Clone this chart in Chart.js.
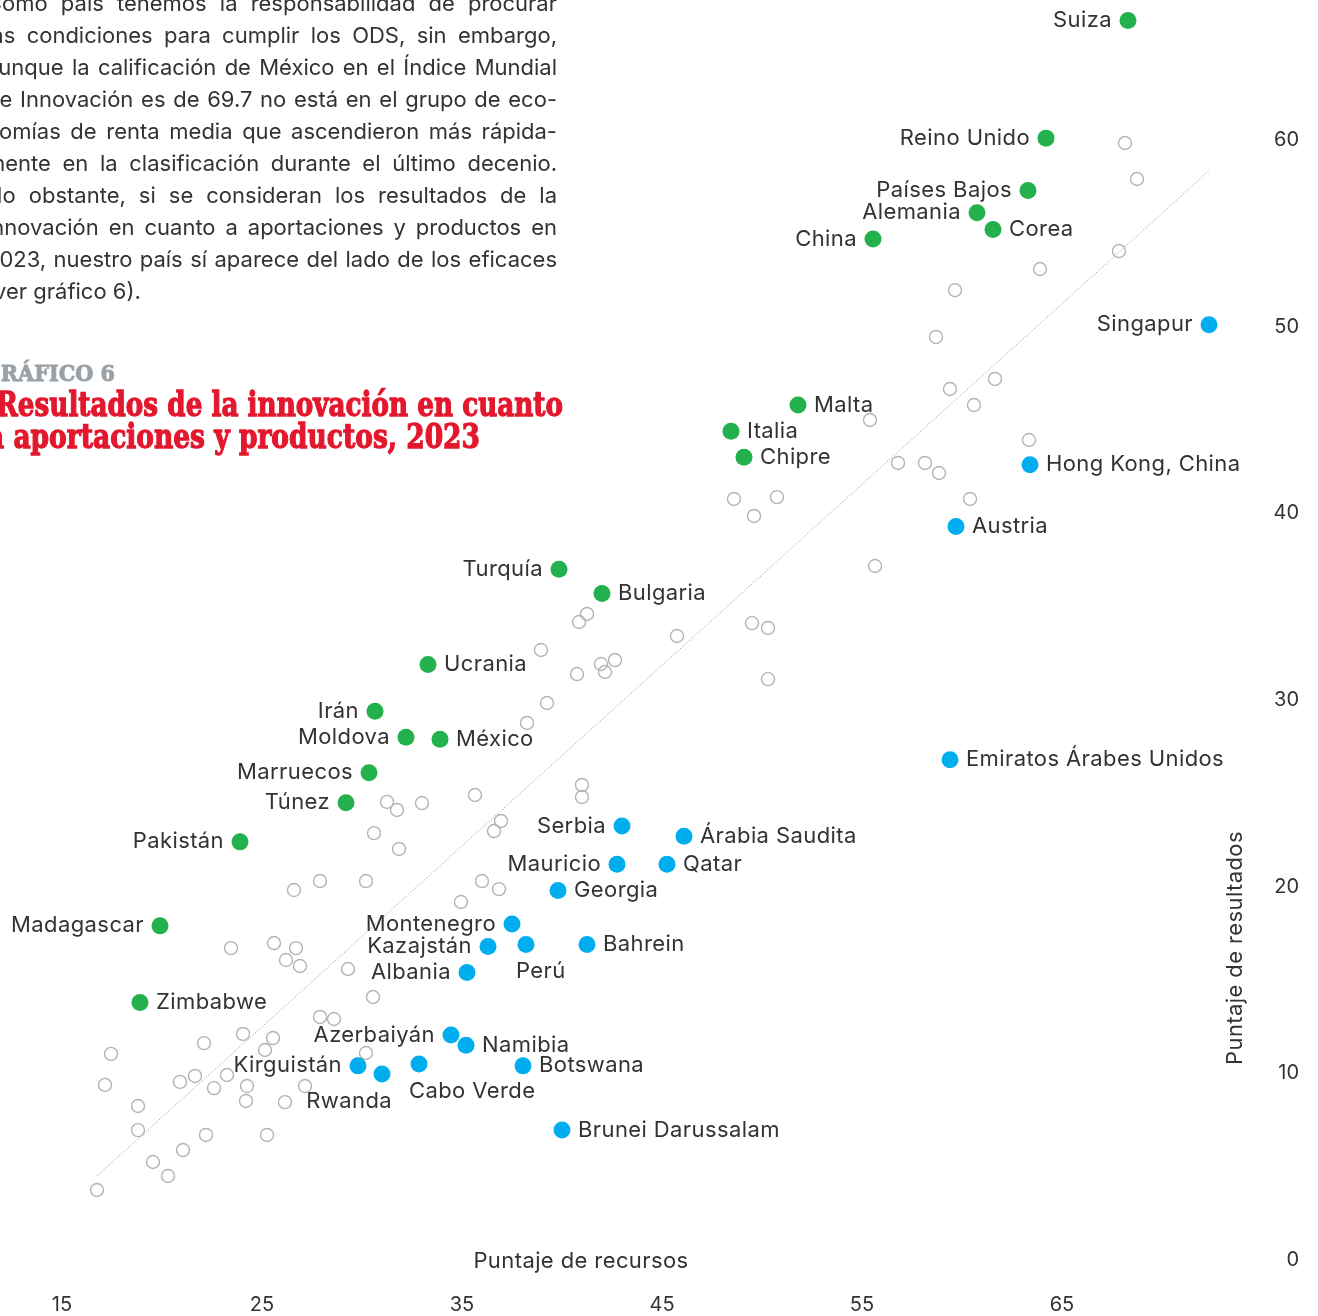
<!DOCTYPE html>
<html><head><meta charset="utf-8">
<script src="https://cdn.jsdelivr.net/npm/chart.js@4.4.1/dist/chart.umd.min.js"></script>
<style>
html,body{margin:0;padding:0;background:#fff;overflow:hidden;}
#wrap{position:relative;width:1318px;height:1316px;overflow:hidden;}
canvas{position:absolute;left:0;top:0;}
.body{position:absolute;left:-14px;top:-13px;width:571px;font-family:Inter,sans-serif;font-size:22px;line-height:32px;color:#333;}
.body div{white-space:nowrap;}
.t{position:absolute;white-space:nowrap;font-family:"DejaVu Serif",serif;font-weight:bold;transform-origin:0 50%;line-height:40px;}
</style></head>
<body><div id="wrap">
<canvas id="c" width="1318" height="1316"></canvas>
<div class="body" id="bodytext">
<div class="j">Como país tenemos la responsabilidad de procurar</div>
<div class="j">las condiciones para cumplir los ODS, sin embargo,</div>
<div class="j">aunque la calificación de México en el Índice Mundial</div>
<div class="j">de Innovación es de 69.7 no está en el grupo de eco-</div>
<div class="j">nomías de renta media que ascendieron más rápida-</div>
<div class="j">mente en la clasificación durante el último decenio.</div>
<div class="j">No obstante, si se consideran los resultados de la</div>
<div class="j">innovación en cuanto a aportaciones y productos en</div>
<div class="j">2023, nuestro país sí aparece del lado de los eficaces</div>
<div>(ver gráfico 6).</div>
</div>
<div class="t" id="t0" style="left:-17px;top:353px;font-size:23px;color:#9aa2a8;-webkit-text-stroke:1px #9aa2a8;" data-w="132">GRÁFICO 6</div>
<div class="t" id="t1" style="left:-4px;top:384px;font-size:34px;color:#e3172d;-webkit-text-stroke:1.3px #e3172d;" data-w="567">Resultados de la innovación en cuanto</div>
<div class="t" id="t2" style="left:-13px;top:416px;font-size:34px;color:#e3172d;-webkit-text-stroke:1.3px #e3172d;" data-w="493">a aportaciones y productos, 2023</div>
</div>
<script>
// ---------- DATA ----------
const xTickValues = [15, 25, 35, 45, 55, 65];
const yTickValues = [0, 10, 20, 30, 40, 50, 60];

const greenNames = ['Suiza','Reino Unido','Países Bajos','Alemania','Corea','China','Malta','Italia','Chipre','Turquía','Bulgaria','Ucrania','Irán','Moldova','México','Marruecos','Túnez','Pakistán','Madagascar','Zimbabwe'];
const greenX = [68.3, 64.2, 63.3, 60.75, 61.55, 55.55, 51.8, 48.45, 49.1, 39.85, 42.0, 33.3, 30.65, 32.2, 33.9, 30.35, 29.2, 23.9, 19.9, 18.9];
const greenY = [66.4, 60.1, 57.3, 56.1, 55.2, 54.7, 45.8, 44.4, 43.0, 37.0, 35.7, 31.9, 29.4, 28.0, 27.9, 26.1, 24.5, 22.4, 17.9, 13.8];

const blueNames = ['Singapur','Hong Kong, China','Austria','Emiratos Árabes Unidos','Serbia','Árabia Saudita','Mauricio','Qatar','Georgia','Montenegro','Kazajstán','Perú','Bahrein','Albania','Azerbaiyán','Namibia','Botswana','Kirguistán','Rwanda','Cabo Verde','Brunei Darussalam'];
const blueX = [72.35, 63.4, 59.7, 59.4, 43.0, 46.1, 42.75, 45.25, 39.8, 37.5, 36.3, 38.2, 41.25, 35.25, 34.45, 35.2, 38.05, 29.8, 31.0, 32.85, 40.0];
const blueY = [50.1, 42.6, 39.3, 26.8, 23.25, 22.7, 21.2, 21.2, 19.8, 18.0, 16.8, 16.9, 16.9, 15.4, 12.05, 11.5, 10.4, 10.4, 9.96, 10.5, 6.96];

const otherX = [68.15,68.75,67.85,63.9,59.65,58.7,61.65,59.4,60.6,55.4,63.35,56.8,58.15,58.85,60.4,48.6,50.75,49.6,55.65,
  41.25,40.85,45.75,49.5,50.3,38.95,41.95,42.65,42.15,40.75,50.3,39.25,38.25,41.0,41.0,35.65,36.95,36.6,31.25,31.75,33.0,30.6,31.85,27.9,30.2,26.6,36.0,36.85,34.95,
  23.45,25.6,26.7,26.2,26.9,29.3,30.55,27.9,28.6,24.05,25.55,22.1,25.15,30.2,17.45,17.15,20.9,21.65,23.25,22.6,24.25,27.15,24.2,26.15,18.8,18.8,22.2,25.25,21.05,19.55,20.3,16.75];
const otherY = [59.84,57.91,54.05,53.09,51.96,49.45,47.2,46.66,45.8,45.0,43.93,42.7,42.7,42.16,40.77,40.77,40.87,39.86,37.18,
  34.61,34.18,33.43,34.12,33.86,32.68,31.93,32.14,31.5,31.39,31.12,29.84,28.77,25.45,24.8,24.91,23.52,22.98,24.54,24.11,24.48,22.87,22.02,20.3,20.3,19.82,20.3,19.87,19.18,
  16.71,16.98,16.71,16.07,15.75,15.59,14.09,13.02,12.91,12.11,11.89,11.62,11.25,11.09,11.04,9.38,9.54,9.86,9.91,9.21,9.32,9.32,8.52,8.46,8.25,6.96,6.7,6.7,5.89,5.25,4.5,3.75];

const trendX = [16.75, 72.4];
const trendY = [4.5, 58.4];

const xTitle = 'Puntaje de recursos';
const yTitle = 'Puntaje de resultados';

// ---------- STYLE / LAYOUT ----------
const GREEN = '#22b14c', BLUE = '#00aeef', TEXT = '#333333', HOLLOW = '#b4b4b4';
const FONT = 'Inter, "Noto Sans", sans-serif';
const labelSide = {
  'Suiza':'left','Reino Unido':'left','Países Bajos':'left','Alemania':'left','China':'left','Turquía':'left',
  'Irán':'left','Moldova':'left','Marruecos':'left','Túnez':'left','Pakistán':'left','Madagascar':'left',
  'Singapur':'left','Serbia':'left','Mauricio':'left','Montenegro':'left','Kazajstán':'left','Albania':'left',
  'Azerbaiyán':'left','Kirguistán':'left','Perú':'belowStart','Cabo Verde':'belowStart','Rwanda':'belowEnd'
};
const titleLayout = { x: {cx: 581, cy: 1261}, y: {cx: 1235, cy: 948} };
const Y_AXIS_W = 37;

const pts = (xs, ys) => xs.map((x, i) => ({x, y: ys[i]}));

const labelPlugin = {
  id: 'pointLabels',
  afterDatasetsDraw(chart) {
    const ctx = chart.ctx;
    ctx.save();
    const ys = chart.scales.y;
    ctx.font = '20px ' + FONT;
    ctx.fillStyle = TEXT;
    ctx.textBaseline = 'middle';
    ctx.textAlign = 'right';
    yTickValues.forEach(v => ctx.fillText(String(v), chart.chartArea.right + Y_AXIS_W, ys.getPixelForValue(v)));

    ctx.font = '22px ' + FONT;
    ctx.letterSpacing = '0.4px';
    [[2, greenNames], [3, blueNames]].forEach(([di, names]) => {
      chart.getDatasetMeta(di).data.forEach((el, i) => {
        const name = names[i];
        const side = labelSide[name] || 'right';
        let x = el.x, y = el.y;
        if (side === 'left') { ctx.textAlign = 'right'; x -= 16; }
        else if (side === 'right') { ctx.textAlign = 'left'; x += 16; }
        else if (side === 'belowStart') { ctx.textAlign = 'left'; x -= 10; y += 27; }
        else { ctx.textAlign = 'right'; x += 10; y += 27; }
        ctx.fillText(name, x, y);
      });
    });
    ctx.textAlign = 'center';
    ctx.fillText(xTitle, titleLayout.x.cx, titleLayout.x.cy);
    ctx.translate(titleLayout.y.cx, titleLayout.y.cy);
    ctx.rotate(-Math.PI / 2);
    ctx.fillText(yTitle, 0, 0);
    ctx.restore();
  }
};

new Chart(document.getElementById('c'), {
  type: 'scatter',
  data: {
    datasets: [
      { type: 'line', data: pts(trendX, trendY), borderColor: '#8a8a8a', borderWidth: 1, borderDash: [1, 2], pointRadius: 0, fill: false, order: 4 },
      { data: pts(otherX, otherY), pointRadius: 6.5, borderWidth: 1.4, borderColor: HOLLOW, backgroundColor: 'rgba(255,255,255,0)', order: 3 },
      { data: pts(greenX, greenY), pointRadius: 8.5, borderWidth: 0, backgroundColor: GREEN, order: 1 },
      { data: pts(blueX, blueY), pointRadius: 8.5, borderWidth: 0, backgroundColor: BLUE, order: 1 }
    ]
  },
  options: {
    responsive: false, animation: false, events: [],
    layout: { autoPadding: false, padding: { left: 62, right: 19, top: 0, bottom: 0 } },
    plugins: { legend: { display: false }, tooltip: { enabled: false } },
    scales: {
      x: {
        type: 'linear', min: 15, max: 75, position: 'bottom',
        grid: { display: false, drawTicks: false }, border: { display: false },
        afterBuildTicks: s => { s.ticks = xTickValues.map(v => ({ value: v })); },
        afterFit: s => { s.height = 56; s.paddingLeft = 0; s.paddingRight = 0; },
        ticks: { font: { family: FONT, size: 20 }, color: TEXT, padding: 33, maxRotation: 0, autoSkip: false }
      },
      y: {
        type: 'linear', min: 0, max: 67.5, position: 'right',
        grid: { display: false, drawTicks: false }, border: { display: false },
        afterBuildTicks: s => { s.ticks = yTickValues.map(v => ({ value: v })); },
        afterFit: s => { s.width = Y_AXIS_W; s.paddingTop = 0; s.paddingBottom = 0; },
        ticks: { display: false }
      }
    }
  },
  plugins: [labelPlugin]
});

const colW = 571;
document.querySelectorAll('#bodytext .j').forEach(div => {
  const span = document.createElement('span');
  span.textContent = div.textContent; div.textContent = ''; div.appendChild(span);
  const w = span.getBoundingClientRect().width;
  const spaces = (span.textContent.match(/ /g) || []).length;
  if (spaces) div.style.wordSpacing = ((colW - w) / spaces) + 'px';
});
['t0','t1','t2'].forEach(id => {
  const el = document.getElementById(id);
  el.style.display = 'inline-block';
  const w = el.getBoundingClientRect().width;
  el.style.transform = 'scaleX(' + (parseFloat(el.dataset.w) / w) + ')';
});
</script>
</body></html>
